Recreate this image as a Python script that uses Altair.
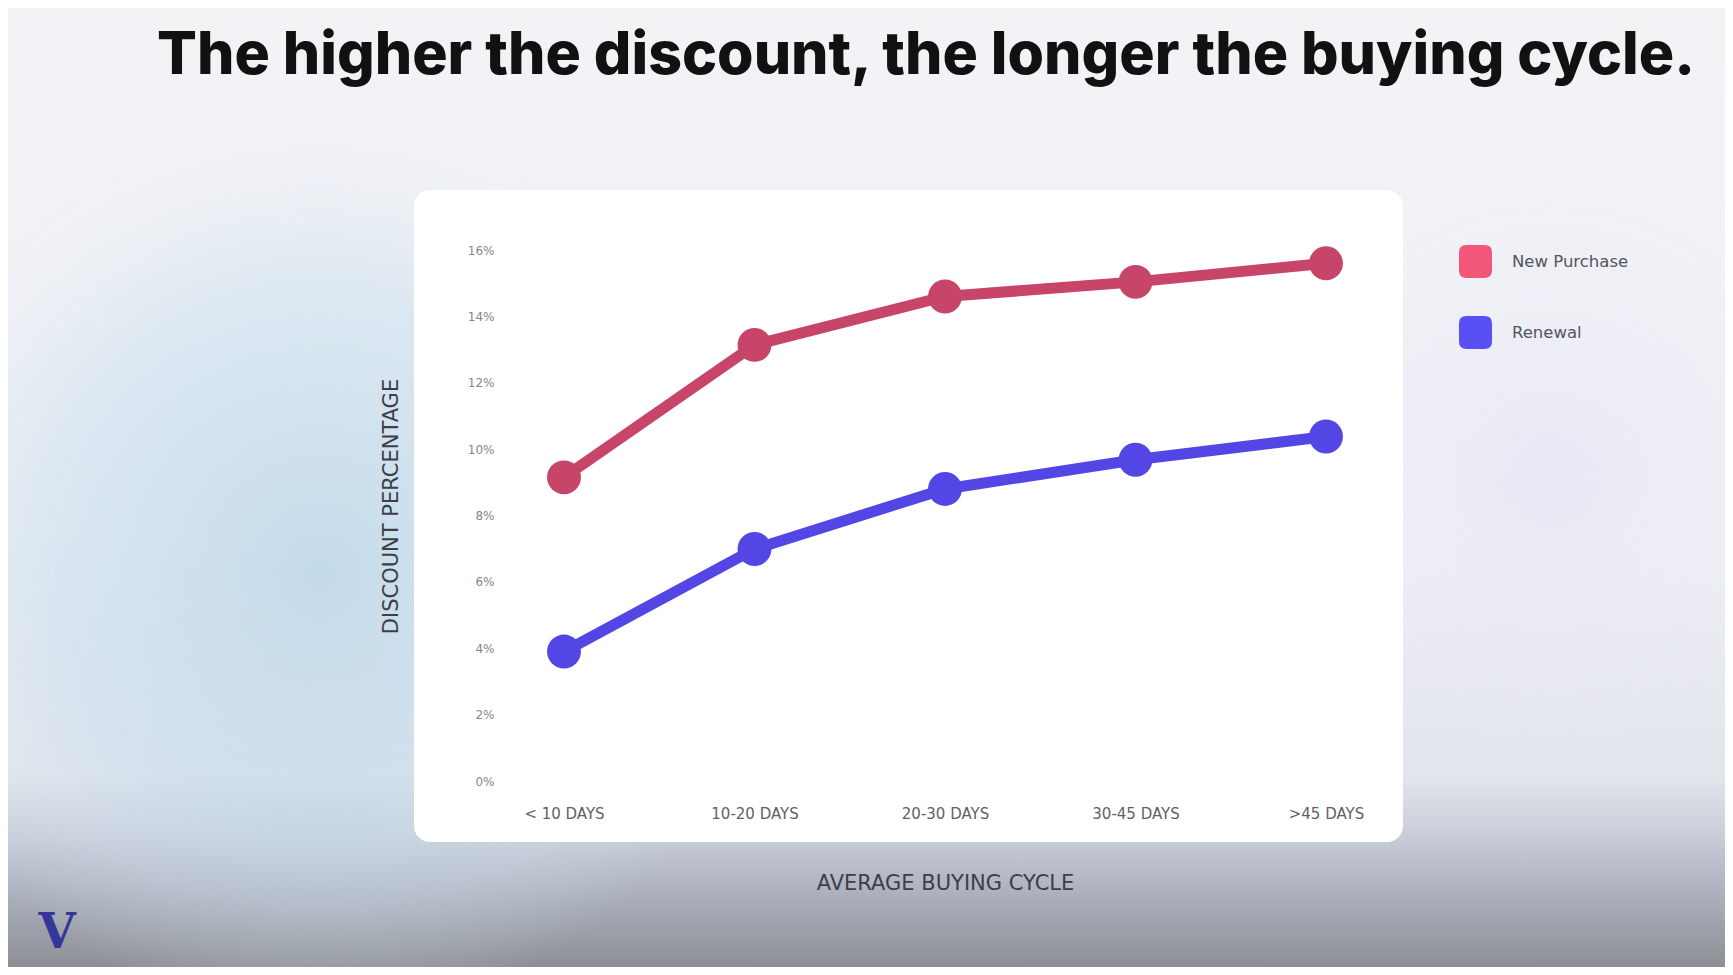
import altair as alt
import pandas as pd

# ---- data ----
categories = ["< 10 DAYS", "10-20 DAYS", "20-30 DAYS", "30-45 DAYS", ">45 DAYS"]
new_purchase = [0.0915, 0.1314, 0.1460, 0.1504, 0.1560]
renewal = [0.0390, 0.0699, 0.0880, 0.0968, 0.1038]
series_names = ["New Purchase", "Renewal"]
line_colors = ["#c8456a", "#5446e4"]
legend_colors = ["#f2577a", "#5a4ff2"]
y_ticks = [0, 0.02, 0.04, 0.06, 0.08, 0.10, 0.12, 0.14, 0.16]
title_text = "The higher the discount, the longer the buying cycle."

rows = []
for c, v in zip(categories, new_purchase):
    rows.append({"cycle": c, "series": series_names[0], "value": v})
for c, v in zip(categories, renewal):
    rows.append({"cycle": c, "series": series_names[1], "value": v})
df = pd.DataFrame(rows)
one = pd.DataFrame({"k": [0]})

W, H = 890, 531
PAD = {"left": 492, "top": 242, "right": 335, "bottom": 186}
FONT = "DejaVu Sans"

x_enc = alt.X("cycle:N", sort=categories, scale=alt.Scale(type="point", padding=0.336),
              axis=alt.Axis(title="AVERAGE BUYING CYCLE", labelAngle=0, labelFontSize=15,
                            labelColor="#5f5f68", labelFont=FONT, labelPadding=25,
                            ticks=False, domain=False, titleFontSize=21, titleFontWeight="normal",
                            titleColor="#3e3e48", titleFont=FONT, titlePadding=51, zindex=2))
y_enc = alt.Y("value:Q", scale=alt.Scale(domain=[0, 0.16], nice=False),
              axis=alt.Axis(title="DISCOUNT PERCENTAGE", values=y_ticks, format=".0%",
                            labelFontSize=12, labelColor="#85858e", labelFont=FONT,
                            labelPadding=6, ticks=False, domain=False, grid=False,
                            titleFontSize=21, titleFontWeight="normal", titleColor="#3e3e48",
                            titleFont=FONT, titlePadding=66, titleY=256, zindex=2))

# the line/dot colour scales list the series in reverse order so that their
# (hidden) legends stay separate from the visible legend below
rev_names = series_names[::-1]
rev_line_colors = line_colors[::-1]
stroke_enc = alt.Stroke("series:N", scale=alt.Scale(domain=rev_names, range=rev_line_colors), legend=None)
fill_enc = alt.Fill("series:N", scale=alt.Scale(domain=rev_names, range=rev_line_colors), legend=None)

# background
bg = alt.Chart(one).mark_rect(
    fill=alt.LinearGradient(
        gradient="linear", x1=0, x2=0, y1=0, y2=1,
        stops=[alt.GradientStop(offset=0, color="#f3f3f6"),
               alt.GradientStop(offset=0.55, color="#eef0f5"),
               alt.GradientStop(offset=0.8, color="#e2e5ec"),
               alt.GradientStop(offset=0.86, color="#c9ceda"),
               alt.GradientStop(offset=0.93, color="#a9aeba"),
               alt.GradientStop(offset=1, color="#8d8f95")])
).encode(x=alt.value(-492), x2=alt.value(W + 335), y=alt.value(-242), y2=alt.value(H + 186))

haze = alt.Chart(one).mark_rect(
    fill=alt.RadialGradient(
        gradient="radial", x1=0.5, y1=0.5, r1=0, x2=0.5, y2=0.5, r2=0.5,
        stops=[alt.GradientStop(offset=0, color="rgba(186,214,232,0.8)"),
               alt.GradientStop(offset=0.6, color="rgba(198,221,236,0.5)"),
               alt.GradientStop(offset=1, color="rgba(225,235,242,0)")])
).encode(x=alt.value(-560), x2=alt.value(200), y=alt.value(-130), y2=alt.value(770))

haze2 = alt.Chart(one).mark_rect(
    fill=alt.RadialGradient(
        gradient="radial", x1=0.5, y1=0.5, r1=0, x2=0.5, y2=0.5, r2=0.5,
        stops=[alt.GradientStop(offset=0, color="rgba(232,230,246,0.8)"),
               alt.GradientStop(offset=1, color="rgba(236,236,246,0)")])
).encode(x=alt.value(800), x2=alt.value(1300), y=alt.value(-50), y2=alt.value(500))

card = alt.Chart(one).mark_rect(fill="#ffffff", cornerRadius=16).encode(
    x=alt.value(-86), x2=alt.value(903), y=alt.value(-60), y2=alt.value(592))

lines = alt.Chart(df).mark_line(strokeWidth=11, strokeCap="round", strokeJoin="round").encode(
    x=x_enc, y=y_enc, stroke=stroke_enc, detail="series:N")

points = alt.Chart(df).mark_point(filled=True, size=1150, opacity=1, strokeWidth=0).encode(
    x=x_enc, y=y_enc, fill=fill_enc)

legend_layer = alt.Chart(df).mark_point(filled=True, size=0).encode(
    x=x_enc, y=y_enc,
    color=alt.Color("series:N", scale=alt.Scale(domain=series_names, range=legend_colors),
                    legend=alt.Legend(title=None, orient="none", legendX=959, legendY=-5,
                                      symbolType="M-1,-0.55Q-1,-1,-0.55,-1L0.55,-1Q1,-1,1,-0.55L1,0.55Q1,1,0.55,1L-0.55,1Q-1,1,-1,0.55Z",
                                      symbolSize=1089, symbolStrokeWidth=0, symbolOpacity=1,
                                      labelFontSize=16.5, labelColor="#55555e", labelFont=FONT,
                                      labelOffset=20, rowPadding=38, padding=0)))

title = alt.Chart(one).mark_text(text=title_text, font="Inter", fontSize=59, fontWeight=800,
                                 color="#111111", align="center", baseline="alphabetic"
                                 ).encode(x=alt.value(426), y=alt.value(-176))

logo = alt.Chart(one).mark_text(text="V", font="DejaVu Serif", fontSize=48, fontWeight="bold",
                                color="#35359a", align="center", baseline="middle").encode(
    x=alt.value(-443), y=alt.value(684))

chart = alt.layer(bg, haze, haze2, card, lines, points, legend_layer, title, logo).properties(
    width=W, height=H, padding=PAD, autosize=alt.AutoSizeParams(type="none"),
    background="#f3f3f6"
).configure_view(stroke=None)

chart.save("out.html", embed_options={"renderer": "svg", "actions": False})
